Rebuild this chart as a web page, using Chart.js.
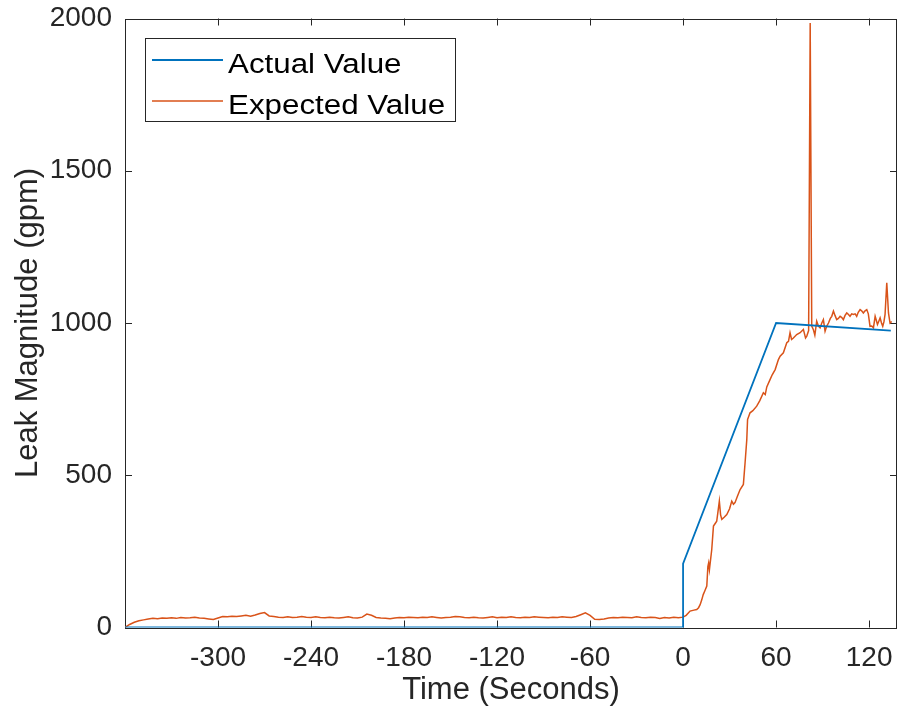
<!DOCTYPE html>
<html><head><meta charset="utf-8">
<script src="https://cdn.jsdelivr.net/npm/chart.js@4/dist/chart.umd.min.js"></script>
<style>html,body{margin:0;padding:0;background:#fff}#wrap{width:899px;height:713px}</style>
</head><body><div id="wrap"><canvas id="c" width="899" height="713"></canvas></div>
<script>
const actualTime  = [-360, 0, 0, 60, 134];
const actualValue = [0, 0, 210, 1000, 975];

const expectedTime = [
-360,-357,-354,-351,-348,-345,-342,-339,-336,-333,-330,-327,-324,-321,-318,-315,-312,-309,-306,-303,
-300,-297,-294,-291,-288,-285,-282,-279,-276,-273,-270,-267,-264,-261,-258,-255,-252,-249,-246,-243,
-240,-237,-234,-231,-228,-225,-222,-219,-216,-213,-210,-207,-204,-201,-198,-195,-192,-189,-186,-183,
-180,-177,-174,-171,-168,-165,-162,-159,-156,-153,-150,-147,-144,-141,-138,-135,-132,-129,-126,-123,
-120,-117,-114,-111,-108,-105,-102,-99,-96,-93,-90,-87,-84,-81,-78,-75,-72,-69,-66,-63,
-60,-57,-54,-51,-48,-45,-42,-39,-36,-33,-30,-27,-24,-21,-18,-15,-12,-9,-6,-3,
0,2,4.5,7,8.8,10,11,12,13,14,15.3,16,16.5,17,18.5,19.6,20.5,21.7,22.5,23.4,
24.2,25,26.5,28.2,30,31.4,32.5,33.5,35,36.8,38.9,40,41.1,41.6,43.2,45,47.5,49.5,51.8,53,
54,56.1,57.5,59.4,61.5,62.6,64.7,66.9,68,69,70,71,73.3,75.5,77.6,79,79.8,81,82,83,
84,85,86.2,87.3,88.4,89.5,90.5,91.6,92.7,93.8,95,95.9,97,98,99.1,100.2,101.3,102.4,103.4,104.5,
105.6,106.7,107.7,108.8,109.9,111,112,113,114.2,115.2,116.3,117.4,118.5,119.5,120.6,121.7,122.8,123.9,124.6,125.4,
126.2,127.1,128,128.8,129.6,130.3,131.4,132.5,133.5,134.6
];
const expectedValue = [
0,10,17,22,25,28,30,29,31,30,32,30,33,31,32,34,31,30,28,26,
31,36,35,37,36,38,40,37,41,46,49,38,36,34,33,35,33,34,36,34,
33,35,33,32,34,32,31,33,35,32,31,34,44,40,33,31,30,29,31,33,
32,34,33,32,34,33,35,33,31,33,34,36,35,33,32,34,32,31,33,35,
32,34,33,35,33,32,34,33,35,34,33,32,34,33,35,34,33,36,42,48,
40,27,26,28,31,33,32,34,33,32,35,33,32,34,33,30,33,31,34,32,
34,40,54,57,59,65,75,90,108,120,136,200,212,190,256,333,340,349,380,415,
370,355,362,371,390,415,405,410,430,453,470,541,617,683,705,712,727,745,771,765,
790,814,830,847,880,891,902,935,940,968,946,950,962,968,979,951,957,975,1985,990,
979,960,1006,990,984,1000,1011,973,990,1000,1015,1022,1039,1025,1011,1015,1022,1018,1011,1025,
1033,1028,1022,1030,1028,1030,1022,1035,1044,1040,1033,1040,1044,1030,989,990,984,1022,1010,995,
1005,1017,1000,989,1005,1028,1132,1033,1000,1005
];

const xTickValues = [-300, -240, -180, -120, -60, 0, 60, 120];
const yTickValues = [0, 500, 1000, 1500, 2000];
const seriesNames = ['Actual Value', 'Expected Value'];
const seriesColors = ['#0072BD', '#D95319'];

const FONT = "'Liberation Sans', Arial, sans-serif";
const INK = '#262626';

const boxPlugin = {
  id: 'matlabBox',
  beforeDatasetsDraw(chart) {
    const ctx = chart.ctx, a = chart.chartArea;
    const xs = chart.scales.x, ys = chart.scales.y;
    ctx.save();
    ctx.strokeStyle = INK; ctx.lineWidth = 1;
    ctx.strokeRect(Math.round(a.left) + 0.5, Math.round(a.top) + 0.5,
                   Math.round(a.right) - Math.round(a.left) - 1, Math.round(a.bottom) - Math.round(a.top));
    const tl = 7;
    ctx.beginPath();
    xTickValues.forEach(v => {
      const px = Math.round(xs.getPixelForValue(v)) + 0.5;
      ctx.moveTo(px, a.bottom); ctx.lineTo(px, a.bottom - tl);
      ctx.moveTo(px, a.top); ctx.lineTo(px, a.top + tl);
    });
    yTickValues.forEach(v => {
      const py = Math.round(ys.getPixelForValue(v)) + 0.5;
      ctx.moveTo(a.left, py); ctx.lineTo(a.left + tl, py);
      ctx.moveTo(a.right, py); ctx.lineTo(a.right - tl, py);
    });
    ctx.stroke();
    ctx.restore();
  }
};

const legendPlugin = {
  id: 'matlabLegend',
  afterDatasetsDraw(chart) {
    const ctx = chart.ctx;
    const x0 = 145.5, y0 = 38.5, w = 310, h = 83;
    ctx.save();
    ctx.fillStyle = '#fff';
    ctx.fillRect(x0, y0, w, h);
    ctx.strokeStyle = INK; ctx.lineWidth = 1;
    ctx.strokeRect(x0, y0, w, h);
    const rows = [60, 101];
    chart.data.datasets.forEach((ds, i) => {
      ctx.strokeStyle = ds.borderColor; ctx.lineWidth = ds.borderWidth;
      ctx.beginPath(); ctx.moveTo(152, rows[i]); ctx.lineTo(223, rows[i]); ctx.stroke();
      ctx.fillStyle = '#000';
      ctx.font = '27px ' + FONT;
      ctx.textBaseline = 'alphabetic';
      ctx.save();
      ctx.translate(228, rows[i] + 12.5);
      ctx.scale(1.16, 1);
      ctx.fillText(ds.label, 0, 0);
      ctx.restore();
    });
    ctx.restore();
  }
};

const actualData = actualTime.map((t, i) => ({x: t, y: actualValue[i]}));
const expectedData = expectedTime.map((t, i) => ({x: t, y: expectedValue[i]}));

new Chart(document.getElementById('c'), {
  type: 'line',
  data: {
    datasets: [
      {label: seriesNames[0], data: actualData, borderColor: seriesColors[0], borderWidth: 1.8, pointRadius: 0, tension: 0, fill: false},
      {label: seriesNames[1], data: expectedData, borderColor: seriesColors[1], borderWidth: 1.5, pointRadius: 0, tension: 0, fill: false}
    ]
  },
  options: {
    responsive: false,
    devicePixelRatio: 1,
    animation: false,
    layout: {padding: {top: 18.5, right: 2, left: 0, bottom: 0}},
    plugins: {legend: {display: false}, tooltip: {enabled: false}},
    scales: {
      x: {
        type: 'linear', min: -360, max: 138,
        afterBuildTicks: s => { s.ticks = xTickValues.map(v => ({value: v})); },
        afterFit: s => { s.height = 85.5; s.paddingLeft = 0; s.paddingRight = 0; },
        grid: {display: false, drawTicks: false},
        border: {display: false},
        ticks: {font: {family: FONT, size: 28}, color: INK, padding: 14, maxRotation: 0, autoSkip: false, callback: v => String(v)},
        title: {display: true, text: 'Time (Seconds)', color: INK, font: {family: FONT, size: 31}, padding: {top: 0, bottom: 4}}
      },
      y: {
        type: 'linear', min: 0, max: 2000,
        afterBuildTicks: s => { s.ticks = yTickValues.map(v => ({value: v})); },
        afterFit: s => { s.width = 125; s.paddingTop = 0; s.paddingBottom = 0; },
        grid: {display: false, drawTicks: false},
        border: {display: false},
        ticks: {font: {family: FONT, size: 28}, color: INK, padding: 13, autoSkip: false, callback: v => String(v)},
        title: {display: true, text: 'Leak Magnitude (gpm)', color: INK, font: {family: FONT, size: 31}, padding: {top: 10, bottom: 0}}
      }
    }
  },
  plugins: [boxPlugin, legendPlugin]
});
</script>
</body></html>
